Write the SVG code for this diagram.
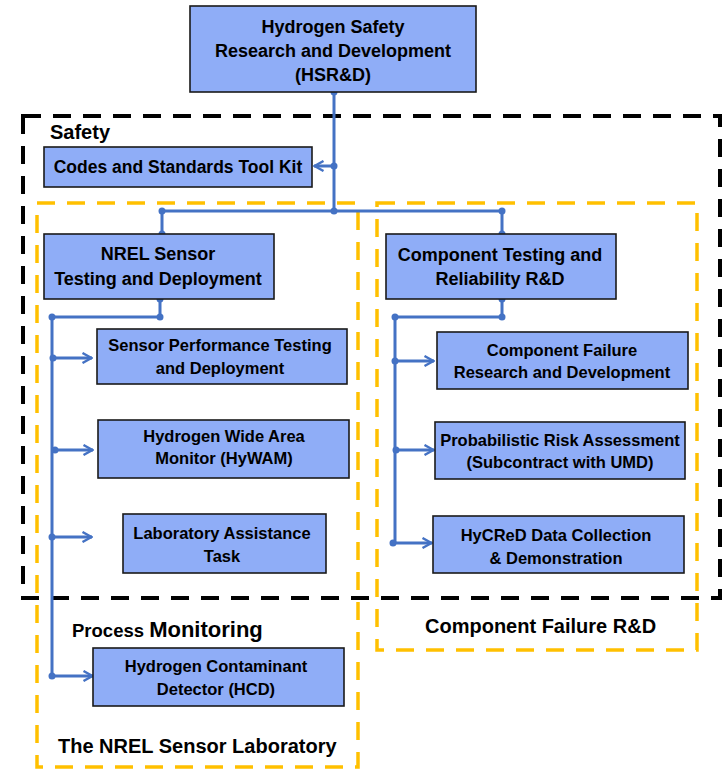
<svg xmlns="http://www.w3.org/2000/svg" width="723" height="771" viewBox="0 0 723 771">
<defs>
<style>
.box{fill:#8FADF7;stroke:#1a1a1a;stroke-width:1.6}
.t{font-family:"Liberation Sans",Arial,sans-serif;font-weight:bold;font-size:16.5px;fill:#000;text-anchor:middle}
.h{font-size:18px}
.k{font-size:17.5px}
.lbl{font-family:"Liberation Sans",Arial,sans-serif;font-weight:bold;fill:#000}
.c{fill:none;stroke:#4472C4;stroke-width:3}
.dot{fill:#4472C4}
.blk{fill:none;stroke:#000;stroke-width:4;stroke-dasharray:18 12}
.yel{fill:none;stroke:#FFC000;stroke-width:3.5;stroke-dasharray:18 12}
</style>
<marker id="arr" viewBox="0 0 12 12" refX="11" refY="6" markerWidth="12" markerHeight="12" markerUnits="userSpaceOnUse" orient="auto">
<path d="M1.5,1 L10.5,6 L1.5,11" fill="none" stroke="#4472C4" stroke-width="2.4"/>
</marker>
</defs>
<rect width="723" height="771" fill="#fff"/>

<g id="regions">
<rect class="blk" x="23" y="116" width="697" height="482"/>
<rect class="yel" x="37" y="203" width="321" height="564"/>
<rect class="yel" x="377" y="203" width="320" height="447"/>
<text class="lbl" x="50" y="139" font-size="20">Safety</text>
<text class="lbl" x="72" y="637"><tspan font-size="18.5">Process </tspan><tspan font-size="22">Monitoring</tspan></text>
<text class="lbl" x="58" y="753" font-size="20">The NREL Sensor Laboratory</text>
<text class="lbl" x="425" y="633" font-size="20">Component Failure R&amp;D</text>
</g>

<g id="connectors">
<path class="c" d="M334,92 V211"/>
<path class="c" d="M334,166 H314" marker-end="url(#arr)"/>
<path class="c" d="M162,234 V211 H502 V234"/>
<path class="c" d="M160,299 V317 H52 V676"/>
<path class="c" d="M52,358 H92" marker-end="url(#arr)"/>
<path class="c" d="M52,450 H93" marker-end="url(#arr)"/>
<path class="c" d="M52,537 H92" marker-end="url(#arr)"/>
<path class="c" d="M52,676 H93" marker-end="url(#arr)"/>
<path class="c" d="M502,299 V317 H395 V543"/>
<path class="c" d="M395,361 H434" marker-end="url(#arr)"/>
<path class="c" d="M395,450 H434" marker-end="url(#arr)"/>
<path class="c" d="M395,543 H432" marker-end="url(#arr)"/>
<g class="dot">
<circle cx="334" cy="92" r="3.5"/>
<circle cx="334" cy="166" r="3.5"/>
<circle cx="334" cy="211" r="3.5"/>
<circle cx="162" cy="211" r="3.5"/>
<circle cx="502" cy="211" r="3.5"/>
<circle cx="162" cy="234" r="3.5"/>
<circle cx="502" cy="234" r="3.5"/>
<circle cx="160" cy="299" r="3.5"/>
<circle cx="160" cy="317" r="3.5"/>
<circle cx="52" cy="317" r="3.5"/>
<circle cx="53" cy="358" r="3.5"/>
<circle cx="55" cy="450" r="3.5"/>
<circle cx="52" cy="537" r="3.5"/>
<circle cx="52" cy="676" r="3.5"/>
<circle cx="502" cy="299" r="3.5"/>
<circle cx="502" cy="317" r="3.5"/>
<circle cx="395" cy="317" r="3.5"/>
<circle cx="395" cy="361" r="3.5"/>
<circle cx="396" cy="450" r="3.5"/>
<circle cx="393" cy="543" r="3.5"/>
</g>
</g>

<g id="hsrd">
<rect class="box" x="190" y="6" width="286" height="86"/>
<text class="t h" x="333" y="33">Hydrogen Safety</text>
<text class="t h" x="333" y="57">Research and Development</text>
<text class="t h" x="333" y="81">(HSR&amp;D)</text>
</g>

<g id="codes">
<rect class="box" x="44" y="147" width="268" height="40"/>
<text class="t k" x="178" y="173">Codes and Standards Tool Kit</text>
</g>

<g id="nrel">
<rect class="box" x="44" y="234" width="230" height="65"/>
<text class="t h" x="158" y="260">NREL Sensor</text>
<text class="t h" x="158" y="285">Testing and Deployment</text>
</g>

<g id="sensorperf">
<rect class="box" x="97" y="329" width="250" height="55"/>
<text class="t" x="220" y="351">Sensor Performance Testing</text>
<text class="t" x="220" y="374">and Deployment</text>
</g>

<g id="hywam">
<rect class="box" x="98" y="420" width="251" height="58"/>
<text class="t" x="224" y="442">Hydrogen Wide Area</text>
<text class="t" x="224" y="464">Monitor (HyWAM)</text>
</g>

<g id="labassist">
<rect class="box" x="123" y="514" width="203" height="59"/>
<text class="t" x="222" y="539">Laboratory Assistance</text>
<text class="t" x="222" y="562">Task</text>
</g>

<g id="hcd">
<rect class="box" x="93" y="648" width="251" height="58"/>
<text class="t" x="216" y="672">Hydrogen Contaminant</text>
<text class="t" x="216" y="695">Detector (HCD)</text>
</g>

<g id="comptest">
<rect class="box" x="386" y="234" width="230" height="65"/>
<text class="t h" x="500" y="261">Component Testing and</text>
<text class="t h" x="500" y="285">Reliability R&amp;D</text>
</g>

<g id="compfail">
<rect class="box" x="437" y="332" width="251" height="57"/>
<text class="t" x="562" y="356">Component Failure</text>
<text class="t" x="562" y="378">Research and Development</text>
</g>

<g id="pra">
<rect class="box" x="435" y="422" width="250" height="57"/>
<text class="t" x="560" y="446">Probabilistic Risk Assessment</text>
<text class="t" x="560" y="468">(Subcontract with UMD)</text>
</g>

<g id="hycred">
<rect class="box" x="433" y="516" width="251" height="57"/>
<text class="t" x="556" y="541">HyCReD Data Collection</text>
<text class="t" x="556" y="564">&amp; Demonstration</text>
</g>
</svg>
